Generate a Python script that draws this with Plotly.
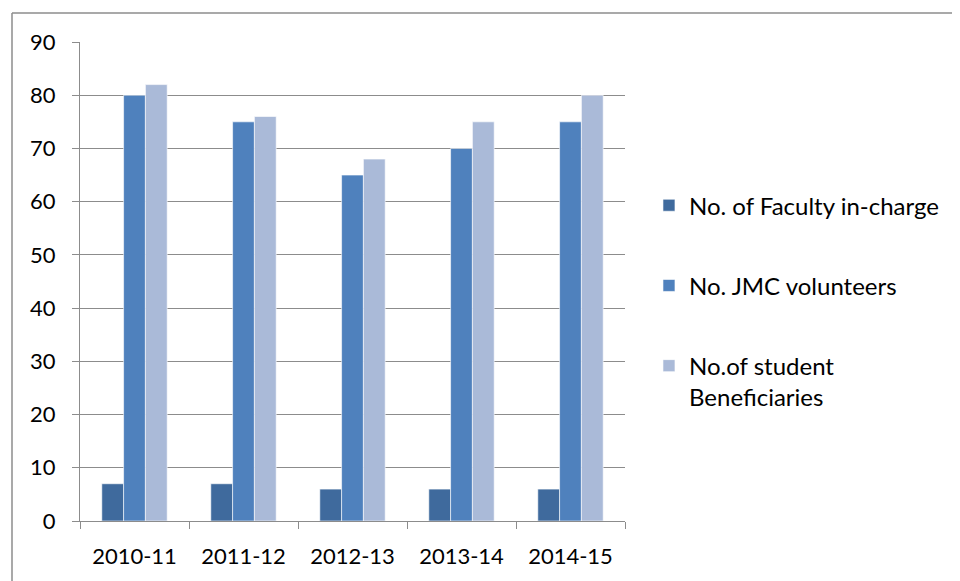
import plotly.graph_objects as go

categories = ["2010-11", "2011-12", "2012-13", "2013-14", "2014-15"]
faculty = [7, 7, 6, 6, 6]
volunteers = [80, 75, 65, 70, 75]
beneficiaries = [82, 76, 68, 75, 80]

names = ["No. of Faculty in-charge", "No. JMC volunteers", "No.of student<br>Beneficiaries"]
colors = ["#3F6A9D", "#4F81BD", "#AABAD8"]

fig = go.Figure()
for i, (vals, nm, col) in enumerate(zip([faculty, volunteers, beneficiaries], names, colors)):
    fig.add_trace(go.Bar(
        x=categories, y=vals, name=nm, legendgroup=f"g{i}",
        marker=dict(color=col, line=dict(color="white", width=0.6)),
    ))

grid = "#8C8C8C"
px0 = lambda x: (x - 80) / 545
py0 = lambda y: (521 - y) / 479
fig.update_layout(
    width=960, height=581,
    margin=dict(l=72, r=343, t=34, b=68),
    paper_bgcolor="white", plot_bgcolor="white",
    font=dict(family="Lato, Calibri, sans-serif", size=22, color="black"),
    barmode="group", bargap=0.4, bargroupgap=0,
    showlegend=True,
    legend=dict(x=1.044, y=0.459, xanchor="left", yanchor="middle",
                tracegroupgap=46, font=dict(size=24), itemwidth=30,
                traceorder="grouped", valign="top"),
    xaxis=dict(type="category", showline=True, linecolor=grid, linewidth=1, ticks="outside",
               tickson="boundaries", ticklen=7, tickcolor=grid, showgrid=False,
               ticklabelstandoff=16),
    yaxis=dict(range=[0, 90], dtick=10, showline=True, linecolor=grid, linewidth=1,
               ticks="outside", ticklen=7, tickcolor=grid, showgrid=True,
               gridcolor=grid, gridwidth=1, zeroline=False, ticklabelstandoff=12),
    shapes=[
        dict(type="line", xref="paper", yref="paper",
             x0=px0(12), x1=px0(975), y0=py0(13), y1=py0(13),
             line=dict(color="#8C8C8C", width=1.5)),
        dict(type="line", xref="paper", yref="paper",
             x0=px0(12), x1=px0(12), y0=py0(13), y1=py0(600),
             line=dict(color="#8C8C8C", width=1.5)),
    ],
)

fig.write_html("out.html")
